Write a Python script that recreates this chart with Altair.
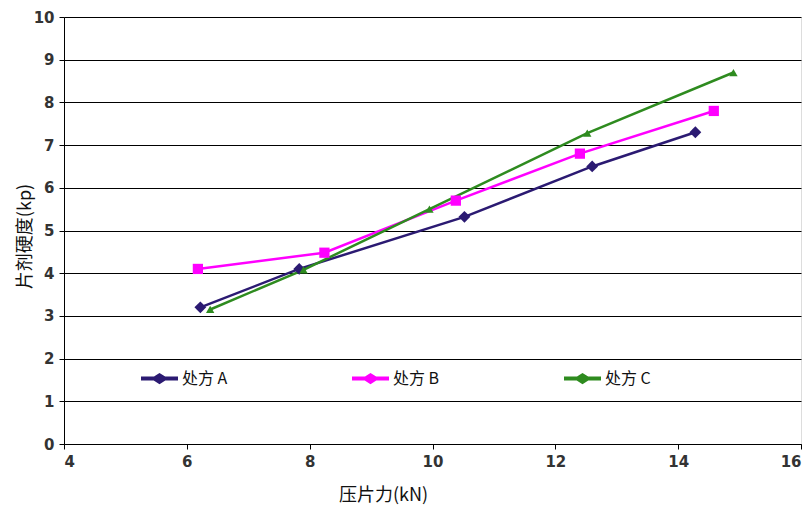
import altair as alt
import pandas as pd

series = ["处方 A", "处方 B", "处方 C"]
force_A = [6.22, 7.83, 10.52, 12.6, 14.28]
hard_A = [3.2, 4.1, 5.32, 6.5, 7.3]
force_B = [6.18, 8.24, 10.38, 12.4, 14.58]
hard_B = [4.1, 4.48, 5.7, 6.8, 7.8]
force_C = [6.38, 7.9, 9.95, 12.52, 14.9]
hard_C = [3.15, 4.08, 5.5, 7.28, 8.7]
colors = ["#2B1A72", "#FF00FF", "#2E8B1F"]
shapes = ["diamond", "square", "triangle-up"]
marker_sizes = [140, 70, 110]

rows = []
for name, xs, ys in [(series[0], force_A, hard_A), (series[1], force_B, hard_B), (series[2], force_C, hard_C)]:
    for i, (x, y) in enumerate(zip(xs, ys)):
        rows.append({"series": name, "marker": name, "force": x, "hardness": y, "order": i})
df = pd.DataFrame(rows)

legend_path = "M-1,0L1,0M-0.28,0L0,-0.18L0.28,0L0,0.18Z"

legend = alt.Legend(
    title=None, orient="none", legendX=75, legendY=341, direction="horizontal",
    columns=3, columnPadding=116, symbolType=legend_path, symbolSize=1369,
    symbolStrokeWidth=4, symbolOpacity=1, labelFont="Noto Sans CJK SC", labelFontSize=16,
    labelColor="#111", labelOffset=2,
)

label_font = "DejaVu Sans"
x_enc = alt.X(
    "force:Q",
    scale=alt.Scale(domain=[4, 16], nice=False, zero=False),
    axis=alt.Axis(
        values=[4, 6, 8, 10, 12, 14, 16], grid=False, title="压片力(kN)", titleX=319, titleY=42,
        titleFont="Noto Sans CJK SC", titleFontSize=18, titleFontWeight="normal", titleColor="#111",
        titleBaseline="top",
        labelFont=label_font, labelFontSize=15, labelFontWeight="bold", labelColor="#333",
        domainColor="#000", tickColor="#000", tickSize=5, labelPadding=5,
    ),
)
y_enc = alt.Y(
    "hardness:Q",
    scale=alt.Scale(domain=[0, 10], nice=False),
    axis=alt.Axis(
        values=list(range(0, 11)), grid=True, gridColor="#000", gridWidth=1, gridOpacity=1,
        title="片剂硬度(kp)", titleFont="Noto Sans CJK SC", titleFontSize=18, titleFontWeight="normal",
        titleColor="#111", titleX=-30, titleY=219,
        labelFont=label_font, labelFontSize=15, labelFontWeight="bold", labelColor="#333",
        domainColor="#000", tickColor="#000", tickSize=5, labelPadding=5,
    ),
)

lines = alt.Chart(df).mark_line(strokeWidth=2.5).encode(
    x=x_enc, y=y_enc,
    color=alt.Color("series:N", scale=alt.Scale(domain=series, range=colors), legend=legend),
    detail="series:N", order="order:Q",
)
points = alt.Chart(df).mark_point(filled=True, opacity=1).encode(
    x=x_enc, y=y_enc,
    color=alt.Color("marker:N", scale=alt.Scale(domain=series, range=colors), legend=None),
    shape=alt.Shape("marker:N", scale=alt.Scale(domain=series, range=shapes), legend=None),
    size=alt.Size("marker:N", scale=alt.Scale(domain=series, range=marker_sizes), legend=None),
)

chart = (
    alt.layer(lines, points)
    .resolve_scale(color="independent", shape="independent", size="independent")
    .properties(width=737, height=427, autosize=alt.AutoSizeParams(type="none"),
                padding={"left": 56, "top": 9, "right": 3, "bottom": 61})
    .configure_view(stroke=None)
    .configure(background="white")
)
chart.save("out.html", embed_options={"renderer": "svg", "actions": False})
